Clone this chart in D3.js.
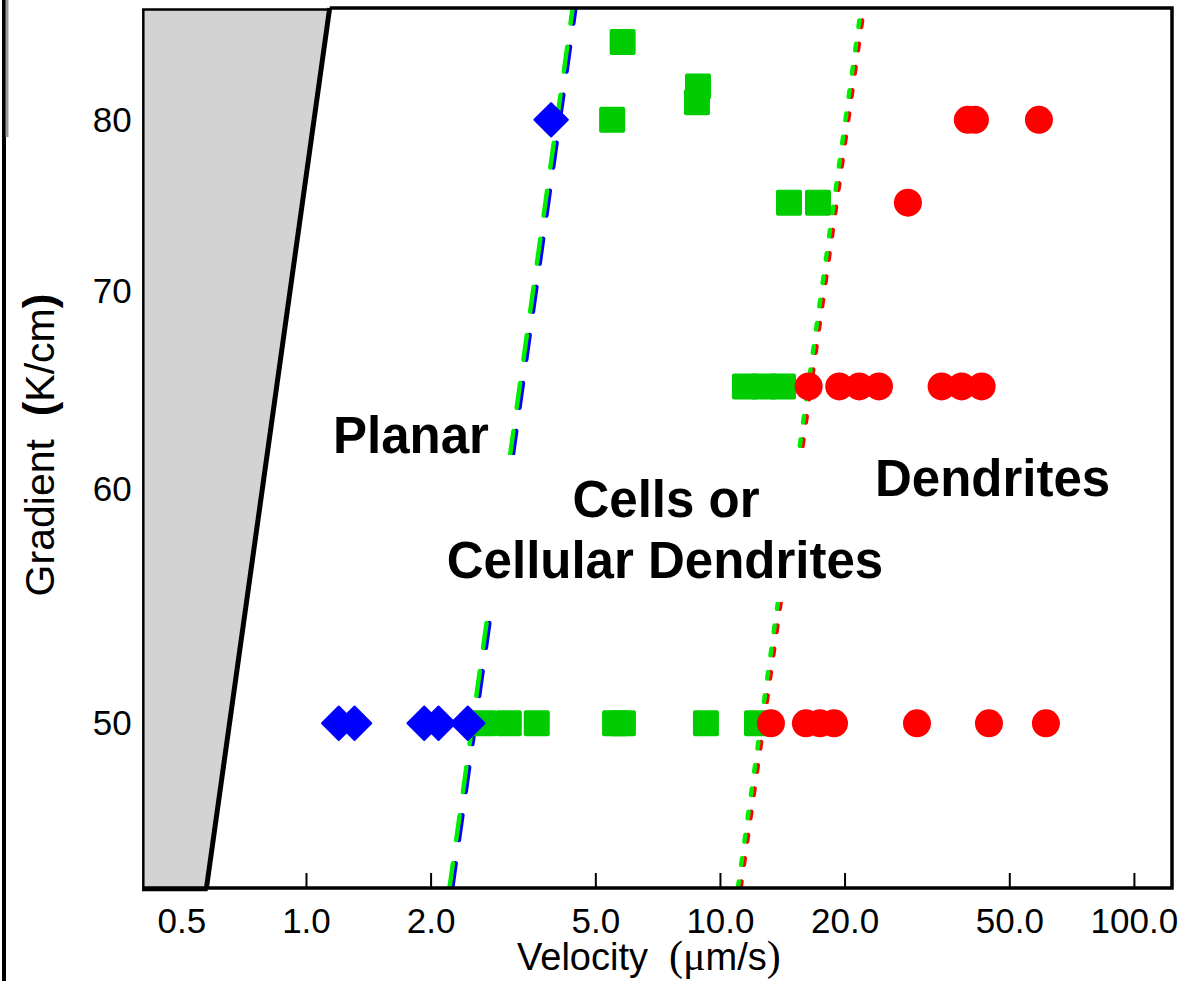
<!DOCTYPE html>
<html>
<head>
<meta charset="utf-8">
<script src="https://cdn.jsdelivr.net/npm/d3@7"></script>
<style>
  body { margin: 0; background: #fff; }
  svg { display: block; }
  text { font-family: "Liberation Sans", Arial, sans-serif; }
</style>
</head>
<body>
<svg id="chart" width="1200" height="981"></svg>
<script>
// measured points, velocity in um/s, gradient in K/cm
const planarVel = [1.20, 1.31, 1.93, 2.09, 2.46, 3.91];
const planarGrad = [50, 50, 50, 50, 50, 80];

const cellVel = [2.69, 3.09, 3.61, 5.58, 5.83, 9.25, 12.29,
                 11.49, 12.77, 14.2,
                 14.68, 17.25,
                 5.49, 8.80, 8.85, 5.82];
const cellGrad = [50, 50, 50, 50, 50, 50, 50,
                  65, 65, 65,
                  75, 75,
                  80, 81.1, 82.1, 85];

const dendVel = [13.28, 16.13, 17.44, 18.86, 29.92, 44.65, 61.3,
                 16.38, 19.42, 21.71, 24.22, 34.32, 38.35, 42.87,
                 28.45,
                 39.7, 41.3, 58.96];
const dendGrad = [50, 50, 50, 50, 50, 50, 50,
                  65, 65, 65, 65, 65, 65, 65,
                  75,
                  80, 80, 80];

// G/V ratios of the boundary lines
const limitRatio = 76.5;          // gray forbidden region
const planarCellRatio = [19.8, 19.5];   // green, blue
const cellDendRatio = [3.98, 3.92];     // green, red

const xTicks = [0.5, 1, 2, 5, 10, 20, 50, 100];
const yTicks = [50, 60, 70, 80];

const svg = d3.select("#chart");
const pLeft = 143.3, pRight = 1172, pTop = 8, pBottom = 888;

const x = d3.scaleLog().domain([0.4046, 123.6]).range([pLeft, pRight]);
const y = d3.scaleLog().domain([43.98, 87.28]).range([pBottom, pTop]);
const gMin = y.domain()[0], gMax = y.domain()[1];

svg.append("defs").append("clipPath").attr("id", "plot")
  .append("rect").attr("x", pLeft).attr("y", pTop)
  .attr("width", pRight - pLeft).attr("height", pBottom - pTop);

// stray border line on the far left
svg.append("line").attr("x1", 4).attr("x2", 4).attr("y1", 0).attr("y2", 981)
  .attr("stroke", "#000").attr("stroke-width", 4);
svg.append("line").attr("x1", 7).attr("x2", 7).attr("y1", 0).attr("y2", 137)
  .attr("stroke", "#999").attr("stroke-width", 3);

// axes
const xAxis = svg.append("g").attr("transform", `translate(0,${pBottom})`)
  .call(d3.axisBottom(x).tickValues(xTicks).tickFormat(d3.format(".1f"))
    .tickSizeInner(-15).tickSizeOuter(0).tickPadding(20));
const yAxis = svg.append("g").attr("transform", `translate(${pLeft},0)`)
  .call(d3.axisLeft(y).tickValues(yTicks).tickFormat(d3.format("d"))
    .tickSizeInner(-15).tickSizeOuter(0).tickPadding(11.6));
[xAxis, yAxis].forEach(a => {
  a.select(".domain").remove();
  a.selectAll("line").attr("stroke", "#000").attr("stroke-width", 2);
  a.selectAll("text").attr("font-size", 35).attr("fill", "#000")
    .attr("font-family", "'Liberation Sans', Arial, sans-serif");
});

// gray region left of the limit line
const limitPts = [[gMax / limitRatio, gMax], [gMin / limitRatio, gMin]];
svg.append("path")
  .attr("d", `M${pLeft},${pTop + 1.5}L${x(limitPts[0][0])},${pTop + 1.5}L${x(limitPts[1][0])},${pBottom + 2}L${pLeft},${pBottom + 2}Z`)
  .attr("fill", "#d3d3d3").attr("stroke", "#000").attr("stroke-width", 2.5);
svg.append("line")
  .attr("x1", x(limitPts[0][0])).attr("y1", y(limitPts[0][1]))
  .attr("x2", x(limitPts[1][0])).attr("y2", y(limitPts[1][1]))
  .attr("stroke", "#000").attr("stroke-width", 5);

// boundary lines
const lineGen = d3.line().x(d => x(d[0])).y(d => y(d[1]));
const lines = svg.append("g").attr("clip-path", "url(#plot)");
function boundary(ratio, color, dash) {
  lines.append("path")
    .attr("d", lineGen([[gMin / ratio, gMin], [gMax / ratio, gMax]]))
    .attr("fill", "none").attr("stroke", color).attr("stroke-width", 4.5)
    .attr("stroke-dasharray", dash).attr("stroke-linecap", "round");
}
boundary(planarCellRatio[1], "#0000ff", "25,23.5");
boundary(planarCellRatio[0], "#00ee00", "25,23.5");
boundary(cellDendRatio[1], "#ff0000", "6.5,17");
boundary(cellDendRatio[0], "#00ee00", "6.5,17");

// white box behind the middle label
svg.append("rect").attr("x", 440).attr("y", 455).attr("width", 452).attr("height", 147)
  .attr("fill", "#fff");

// region labels
const labels = svg.append("g").attr("font-weight", "bold").attr("font-size", 51).attr("fill", "#000");
labels.append("text").attr("x", 333).attr("y", 453).text("Planar");
labels.append("text").attr("x", 666).attr("y", 517).attr("text-anchor", "middle").text("Cells or");
labels.append("text").attr("x", 665).attr("y", 578).attr("text-anchor", "middle").text("Cellular Dendrites");
labels.append("text").attr("x", 875).attr("y", 496).text("Dendrites");

// markers
const marks = svg.append("g");
marks.selectAll(".cell").data(d3.range(cellVel.length)).join("rect")
  .attr("x", i => x(cellVel[i]) - 13).attr("y", i => y(cellGrad[i]) - 13)
  .attr("width", 26).attr("height", 26).attr("rx", 2)
  .attr("fill", "#00cc00");
marks.selectAll(".dend").data(d3.range(dendVel.length)).join("circle")
  .attr("cx", i => x(dendVel[i])).attr("cy", i => y(dendGrad[i])).attr("r", 14)
  .attr("fill", "#ff0000");
const diamond = d3.symbol(d3.symbolSquare, 560);
marks.selectAll(".planar").data(d3.range(planarVel.length)).join("path")
  .attr("d", diamond)
  .attr("transform", i => `translate(${x(planarVel[i])},${y(planarGrad[i])}) rotate(45)`)
  .attr("fill", "#0000ff").attr("stroke", "#0000ff").attr("stroke-width", 2)
  .attr("stroke-linejoin", "round");

// frame
svg.append("path")
  .attr("d", `M${x(limitPts[0][0])},${pTop}L${pRight},${pTop}L${pRight},${pBottom}L${pLeft},${pBottom}`)
  .attr("fill", "none").attr("stroke", "#000").attr("stroke-width", 3.5);

// axis titles
const xt = svg.append("text").attr("x", 517).attr("y", 970).attr("font-size", 38).attr("fill", "#000");
xt.append("tspan").text("Velocity\u00a0\u00a0");
xt.append("tspan").attr("font-family", "'Liberation Serif', serif").attr("font-size", 42).text("(\u03bc");
xt.append("tspan").text("m/s");
xt.append("tspan").attr("font-family", "'Liberation Serif', serif").attr("font-size", 42).text(")");

const yt = svg.append("text").attr("transform", "translate(54,445) rotate(-90)")
  .attr("text-anchor", "middle").attr("font-size", 41).attr("fill", "#000");
yt.append("tspan").text("Gradient\u00a0\u00a0");
yt.append("tspan").attr("font-weight", "bold").attr("font-size", 44).text("(");
yt.append("tspan").text("K/cm");
yt.append("tspan").attr("font-weight", "bold").attr("font-size", 44).text(")");
</script>
</body>
</html>
